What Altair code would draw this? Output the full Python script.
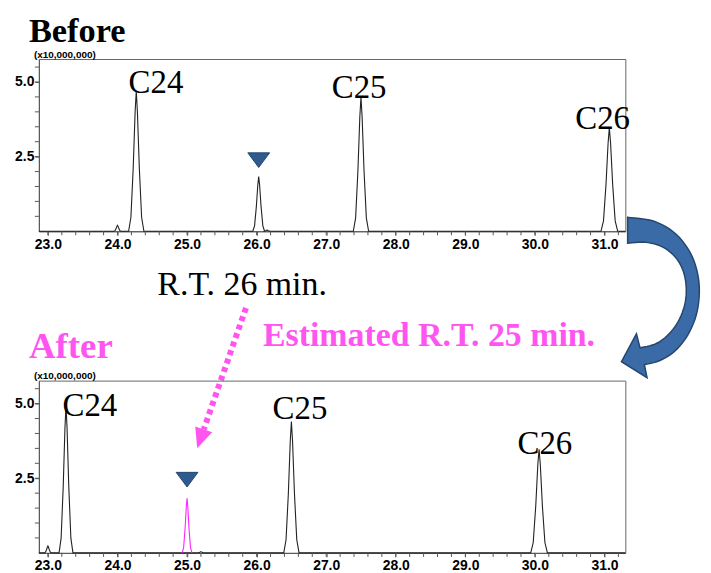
import altair as alt
import pandas as pd

# ---------------- data ----------------
X_DOMAIN = [22.87, 31.30]          # retention time (min)
Y_DOMAIN = [0.0, 5.77]             # intensity (x10,000,000)

# "Before" chromatogram peaks: retention time, apex height, half base width
before_rt = [24.00, 24.27, 26.03, 26.15, 27.50, 31.07]
before_h = [0.20, 4.70, 1.83, 0.04, 4.50, 3.47]
before_w = [0.05, 0.11, 0.085, 0.05, 0.11, 0.12]

# "After" chromatogram peaks (black trace)
after_rt = [23.00, 23.26, 25.20, 26.50, 30.06]
after_h = [0.23, 4.93, 0.04, 4.40, 3.47]
after_w = [0.05, 0.10, 0.04, 0.11, 0.12]

# "After" highlighted (magenta) peak
target_rt = [25.00]
target_h = [1.83]
target_w = [0.07]

# peak outline: offset (fraction of half width), fraction of apex
profile_dx = [-1.0, -0.7, -0.4, -0.15, 0.0, 0.15, 0.4, 0.7, 1.0]
profile_fy = [0.0, 0.1, 0.45, 0.85, 1.0, 0.85, 0.45, 0.1, 0.0]

# peak labels
before_lbl = ["C24", "C25", "C26"]
before_lbl_x = [24.16, 27.08, 30.58]
before_lbl_y = [4.63, 4.47, 3.43]
after_lbl = ["C24", "C25", "C26"]
after_lbl_x = [23.21, 26.23, 29.75]
after_lbl_y = [4.57, 4.47, 3.30]

# triangle markers
before_mark_x, before_mark_y = [26.03], [2.40]
after_mark_x, after_mark_y = [25.00], [2.47]

# axis ticks
x_major = [23.0, 24.0, 25.0, 26.0, 27.0, 28.0, 29.0, 30.0, 31.0]
x_minor = [round(23.0 + 0.2 * i, 1) for i in range(42)]
y_major = [2.5, 5.0]
y_minor = [0.5, 1.0, 1.5, 2.0, 2.5, 3.0, 3.5, 4.0, 4.5, 5.0, 5.5]

# ---------------- styling ----------------
W, H = 589, 173
SERIF = "Liberation Serif"
AX_FONT = "Liberation Sans"
PINK = "#FF55F0"
MAGENTA = "#FF22FF"
BLUE = "#2E5A8E"
AXC = "#555555"


def build_trace(rts, hs, ws, ends=True):
    xs, ys = [], []
    if ends:
        xs.append(X_DOMAIN[0]); ys.append(0.0)
    for rt, h, w in zip(rts, hs, ws):
        for dx, fy in zip(profile_dx, profile_fy):
            xs.append(rt + dx * w)
            ys.append(h * fy)
    if ends:
        xs.append(X_DOMAIN[1]); ys.append(0.0)
    return pd.DataFrame({"rt": xs, "val": ys, "i": list(range(len(xs)))})


xscale = alt.Scale(domain=X_DOMAIN, nice=False, zero=False)
yscale = alt.Scale(domain=Y_DOMAIN, nice=False, zero=False)

xaxis = alt.Axis(
    values=x_major, format=".1f", title=None, grid=False, tickSize=4, tickColor=AXC,
    domainColor=AXC, labelFont=AX_FONT, labelFontSize=14, labelFontWeight="bold",
    labelColor="black", labelPadding=2, labelFlush=False,
)
yaxis = alt.Axis(
    values=y_major, format=".1f", title=None, grid=False, tickSize=4, tickColor=AXC,
    domainColor=AXC, labelFont=AX_FONT, labelFontSize=14, labelFontWeight="bold",
    labelColor="black", labelPadding=1,
)


def line_layer(df, color):
    return alt.Chart(df).mark_line(color=color, strokeWidth=1.1).encode(
        x=alt.X("rt:Q", scale=xscale, axis=xaxis),
        y=alt.Y("val:Q", scale=yscale, axis=yaxis),
        order="i:Q",
    )


def minor_ticks():
    xt = alt.Chart(pd.DataFrame({"t": x_minor})).mark_rule(color=AXC, strokeWidth=1).encode(
        x=alt.X("t:Q", scale=xscale), y=alt.value(H), y2=alt.value(H + 4)
    )
    yt = alt.Chart(pd.DataFrame({"t": y_minor})).mark_rule(color=AXC, strokeWidth=1).encode(
        y=alt.Y("t:Q", scale=yscale), x=alt.value(-4), x2=alt.value(0)
    )
    return [xt, yt]


def label_layer(lbl, lx, ly):
    df = pd.DataFrame({"lbl": lbl, "x": lx, "y": ly})
    return alt.Chart(df).mark_text(
        align="left", baseline="alphabetic", font=SERIF, fontSize=33, color="black"
    ).encode(x=alt.X("x:Q", scale=xscale), y=alt.Y("y:Q", scale=yscale), text="lbl:N")


TRI = "M-1,-0.62 L1,-0.62 L0,0.72 Z"


def marker_layer(mx, my):
    df = pd.DataFrame({"x": mx, "y": my})
    return alt.Chart(df).mark_point(
        shape=TRI, size=480, filled=True, fill=BLUE, stroke="#24476F",
        strokeWidth=1, opacity=1,
    ).encode(x=alt.X("x:Q", scale=xscale), y=alt.Y("y:Q", scale=yscale))


def text_px(txt, x, y, size, color="black", weight="normal", font=SERIF, baseline="alphabetic"):
    return alt.Chart(pd.DataFrame({"t": [txt]})).mark_text(
        align="left", baseline=baseline, font=font, fontSize=size,
        fontWeight=weight, color=color,
    ).encode(x=alt.value(x), y=alt.value(y), text="t:N")


# ---- curved blue arrow outline (page pixels -> unit box), smoothed ----
def catmull(pts, n=6):
    out = []
    for k in range(len(pts) - 1):
        p0 = pts[max(k - 1, 0)]; p1 = pts[k]; p2 = pts[k + 1]; p3 = pts[min(k + 2, len(pts) - 1)]
        for s in range(n):
            t = s / n
            t2, t3 = t * t, t * t * t
            out.append(tuple(
                0.5 * (2 * p1[j] + (-p0[j] + p2[j]) * t + (2 * p0[j] - 5 * p1[j] + 4 * p2[j] - p3[j]) * t2
                       + (-p0[j] + 3 * p1[j] - 3 * p2[j] + p3[j]) * t3) for j in range(2)))
    out.append(pts[-1])
    return out


def sq(p):
    return (624 + (p[0] - 624) * 0.885, p[1])


outer = [sq(p) for p in [(630, 216), (660, 220), (685, 233), (703, 255), (711, 282), (709, 310),
                         (699, 333), (684, 350), (666, 360), (649, 364)]]
inner = [sq(p) for p in [(644, 347), (662, 343), (677, 333), (689, 318), (696, 298), (695, 276),
                         (686, 258), (670, 246), (650, 241), (630, 242)]]
headp = [sq(p) for p in [(652, 377), (623, 361), (640, 333)]]
arrow_pts = catmull(outer) + headp + catmull(inner)
acx, acy, half = 665, 295, 85
arrow_path = "M" + " L".join(f"{(px-acx)/half:.4f},{(py-acy)/half:.4f}" for px, py in arrow_pts) + " Z"

OX, OY = 38, 57  # page position of top plot origin

curved_arrow = alt.Chart(pd.DataFrame({"a": [0]})).mark_point(
    shape=arrow_path, size=(2 * half) ** 2, filled=True, fill="#3B6BA6",
    stroke="#24466F", strokeWidth=1.5, opacity=1,
).encode(x=alt.value(acx - OX), y=alt.value(acy - OY))

dotted = alt.Chart(pd.DataFrame({"a": [0]})).mark_rule(
    color=PINK, strokeWidth=6, strokeDash=[5, 4], strokeCap="butt"
).encode(x=alt.value(246 - OX), y=alt.value(307 - OY),
         x2=alt.value(203.6 - OX), y2=alt.value(429 - OY))

head = alt.Chart(pd.DataFrame({"a": [0]})).mark_point(
    shape="M0,1 L-0.9,-1 L0.9,-1 Z", size=400, filled=True, fill=PINK,
    opacity=1, angle=19, strokeWidth=0,
).encode(x=alt.value(200.3 - OX), y=alt.value(438.5 - OY))

# invisible mark fixing the top-left corner of the drawing (page 8, 8)
anchor = alt.Chart(pd.DataFrame({"a": [0]})).mark_rule(opacity=0, strokeWidth=0.2).encode(
    x=alt.value(-30), x2=alt.value(-29.5), y=alt.value(-49), y2=alt.value(-48.5)
)

top = alt.layer(
    anchor,
    line_layer(build_trace(before_rt, before_h, before_w), "#222222"),
    *minor_ticks(),
    label_layer(before_lbl, before_lbl_x, before_lbl_y),
    marker_layer(before_mark_x, before_mark_y),
    text_px("Before", -10, 40 - OY, 34.5, weight="bold"),
    text_px("(x10,000,000)", -5, -1, 10, weight="bold", font="Liberation Sans"),
    text_px("R.T. 26 min.", 157 - OX, 294 - OY, 34),
    text_px("Estimated R.T. 25 min.", 263 - OX, 345 - OY, 34, color=PINK, weight="bold"),
    text_px("After", 28 - OX, 357 - OY, 37, color=PINK, weight="bold"),
    dotted, head, curved_arrow,
).properties(width=W, height=H)

bottom = alt.layer(
    line_layer(build_trace(after_rt, after_h, after_w), "#222222"),
    line_layer(build_trace(target_rt, target_h, target_w, ends=False), MAGENTA),
    *minor_ticks(),
    label_layer(after_lbl, after_lbl_x, after_lbl_y),
    marker_layer(after_mark_x, after_mark_y),
    text_px("(x10,000,000)", -5, -2, 10, weight="bold", font="Liberation Sans"),
).properties(width=W, height=H)

chart = alt.vconcat(top, bottom, spacing=150, bounds="flush").properties(
    padding=0, background="white"
).configure_view(stroke="#666666", strokeWidth=1)

chart.save("out.html", embed_options={"renderer": "svg", "actions": False})
